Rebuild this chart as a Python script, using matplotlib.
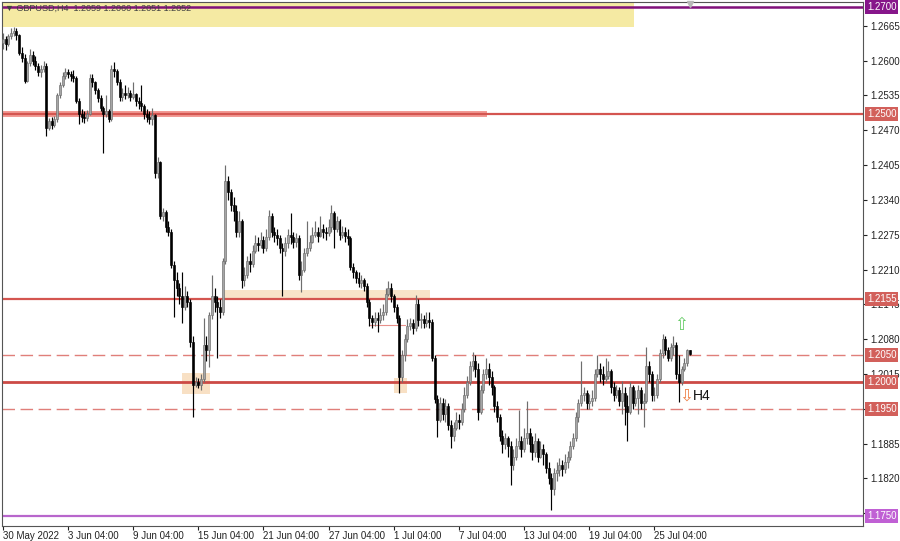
import numpy as np
import matplotlib
matplotlib.use("Agg")
import matplotlib.pyplot as plt
from matplotlib.patches import Rectangle
import matplotlib.transforms as mtransforms

plt.rcParams['font.family'] = ['Liberation Sans', 'DejaVu Sans']

# GBPUSD H4, valores (fechamento, maxima, minima)
primeira_abertura = 1.2632

fechamentos = [
    1.2640, 1.2630, 1.2645, 1.2652, 1.2655, 1.2648, 1.2615, 1.2605, 1.2562, 1.2595,
    1.2610, 1.2600, 1.2590, 1.2578, 1.2585, 1.2590, 1.2475, 1.2488, 1.2480, 1.2490,
    1.2535, 1.2555, 1.2572, 1.2578, 1.2575, 1.2572, 1.2568, 1.2525, 1.2500, 1.2495,
    1.2492, 1.2500, 1.2568, 1.2560, 1.2545, 1.2530, 1.2512, 1.2500, 1.2505, 1.2490,
    1.2585, 1.2580, 1.2560, 1.2532, 1.2540, 1.2535, 1.2540, 1.2532, 1.2538, 1.2525,
    1.2520, 1.2515, 1.2500, 1.2495, 1.2490, 1.2498, 1.2390, 1.2410, 1.2310, 1.2318,
    1.2290, 1.2280, 1.2218, 1.2190, 1.2175, 1.2160, 1.2140, 1.2160, 1.2150, 1.2075,
    1.1995, 1.2000, 1.1995, 1.2005, 1.2070, 1.2060, 1.2125, 1.2160, 1.2150, 1.2140,
    1.2130, 1.2225, 1.2375, 1.2355, 1.2330, 1.2320, 1.2280, 1.2300, 1.2190, 1.2200,
    1.2225, 1.2220, 1.2245, 1.2260, 1.2255, 1.2265, 1.2250, 1.2270, 1.2310, 1.2280,
    1.2275, 1.2268, 1.2250, 1.2245, 1.2260, 1.2275, 1.2270, 1.2262, 1.2268, 1.2200,
    1.2210, 1.2240, 1.2250, 1.2262, 1.2275, 1.2280, 1.2272, 1.2285, 1.2280, 1.2278,
    1.2290, 1.2315, 1.2285, 1.2300, 1.2275, 1.2280, 1.2272, 1.2268, 1.2215, 1.2205,
    1.2195, 1.2185, 1.2190, 1.2180, 1.2150, 1.2120, 1.2112, 1.2120, 1.2115, 1.2125,
    1.2130, 1.2165, 1.2175, 1.2160, 1.2140, 1.2120, 1.2010, 1.2050, 1.2080, 1.2105,
    1.2110, 1.2100, 1.2145, 1.2115, 1.2118, 1.2110, 1.2115, 1.2112, 1.2045, 1.1968,
    1.1930, 1.1960, 1.1940, 1.1955, 1.1920, 1.1900, 1.1915, 1.1930, 1.1925, 1.1950,
    1.1975, 1.2000, 1.2030, 1.2040, 1.2025, 1.1945, 1.1985, 1.2015, 1.2025, 1.2010,
    1.1990, 1.1955, 1.1935, 1.1900, 1.1885, 1.1895, 1.1880, 1.1845, 1.1860, 1.1880,
    1.1890, 1.1875, 1.1895, 1.1905, 1.1885, 1.1870, 1.1890, 1.1860, 1.1875, 1.1865,
    1.1840, 1.1820, 1.1800, 1.1830, 1.1835, 1.1845, 1.1838, 1.1850, 1.1860, 1.1880,
    1.1895, 1.1935, 1.1960, 1.1975, 1.1980, 1.1960, 1.1965, 1.1970, 1.2015, 1.2025,
    1.2015, 1.2005, 1.2012, 1.2020, 1.1990, 1.1975, 1.1985, 1.1965, 1.1980, 1.1955,
    1.1945, 1.1990, 1.1960, 1.1970, 1.1985, 1.1960, 1.1965, 1.2030, 1.2015, 1.1975,
    1.1975, 1.2005, 1.2055, 1.2080, 1.2060, 1.2045, 1.2065, 1.2070, 1.2015, 1.2000,
    1.2025, 1.2035, 1.2059, 1.2052,
]

maximas = [
    1.2652, 1.2645, 1.2650, 1.2660, 1.2662, 1.2660, 1.2650, 1.2625, 1.2612, 1.2600,
    1.2622, 1.2618, 1.2608, 1.2595, 1.2592, 1.2600, 1.2595, 1.2492, 1.2495, 1.2496,
    1.2540, 1.2560, 1.2578, 1.2586, 1.2584, 1.2580, 1.2582, 1.2572, 1.2530, 1.2510,
    1.2505, 1.2508, 1.2575, 1.2575, 1.2562, 1.2548, 1.2535, 1.2515, 1.2535, 1.2510,
    1.2592, 1.2598, 1.2585, 1.2565, 1.2548, 1.2555, 1.2550, 1.2545, 1.2560, 1.2540,
    1.2532, 1.2555, 1.2518, 1.2510, 1.2505, 1.2512, 1.2500, 1.2420, 1.2412, 1.2325,
    1.2322, 1.2300, 1.2285, 1.2225, 1.2205, 1.2185, 1.2205, 1.2180, 1.2170, 1.2155,
    1.2085, 1.2010, 1.2008, 1.2015, 1.2120, 1.2085, 1.2130, 1.2200, 1.2175, 1.2160,
    1.2155, 1.2232, 1.2405, 1.2385, 1.2360, 1.2345, 1.2330, 1.2320, 1.2305, 1.2215,
    1.2235, 1.2240, 1.2255, 1.2275, 1.2270, 1.2280, 1.2272, 1.2285, 1.2322, 1.2315,
    1.2290, 1.2285, 1.2275, 1.2260, 1.2270, 1.2285, 1.2315, 1.2280, 1.2278, 1.2275,
    1.2225, 1.2250, 1.2300, 1.2275, 1.2290, 1.2300, 1.2290, 1.2310, 1.2295, 1.2290,
    1.2305, 1.2330, 1.2320, 1.2310, 1.2305, 1.2292, 1.2290, 1.2285, 1.2272, 1.2222,
    1.2210, 1.2205, 1.2200, 1.2195, 1.2185, 1.2155, 1.2125, 1.2130, 1.2130, 1.2138,
    1.2145, 1.2175, 1.2188, 1.2185, 1.2165, 1.2145, 1.2125, 1.2060, 1.2090, 1.2118,
    1.2120, 1.2118, 1.2163, 1.2155, 1.2128, 1.2125, 1.2130, 1.2130, 1.2118, 1.2050,
    1.1975, 1.1972, 1.1970, 1.1968, 1.1960, 1.1930, 1.1925, 1.1945, 1.1940, 1.1960,
    1.1990, 1.2012, 1.2040, 1.2056, 1.2050, 1.2035, 1.1995, 1.2025, 1.2045, 1.2035,
    1.2020, 1.1995, 1.1965, 1.1940, 1.1910, 1.1905, 1.1900, 1.1890, 1.1875, 1.1895,
    1.1948, 1.1900, 1.1915, 1.1965, 1.1915, 1.1900, 1.1905, 1.1895, 1.1890, 1.1885,
    1.1870, 1.1850, 1.1830, 1.1840, 1.1850, 1.1858, 1.1855, 1.1865, 1.1872, 1.1890,
    1.1905, 1.1945, 1.1968, 1.2040, 1.1990, 1.1985, 1.1978, 1.1985, 1.2025, 1.2050,
    1.2035, 1.2030, 1.2045, 1.2040, 1.2025, 1.2000, 1.1995, 1.1990, 1.2002, 1.1990,
    1.1975, 1.2000, 1.1995, 1.1985, 1.1995, 1.1990, 1.1980, 1.2065, 1.2040, 1.2020,
    1.1990, 1.2015, 1.2062, 1.2090, 1.2085, 1.2065, 1.2072, 1.2085, 1.2075, 1.2050,
    1.2030, 1.2045, 1.2062, 1.2060,
]

minimas = [
    1.2622, 1.2620, 1.2628, 1.2640, 1.2645, 1.2638, 1.2610, 1.2598, 1.2558, 1.2560,
    1.2590, 1.2592, 1.2582, 1.2572, 1.2570, 1.2578, 1.2460, 1.2470, 1.2472, 1.2476,
    1.2485, 1.2530, 1.2550, 1.2565, 1.2568, 1.2562, 1.2560, 1.2520, 1.2482, 1.2485,
    1.2484, 1.2488, 1.2498, 1.2550, 1.2538, 1.2522, 1.2505, 1.2428, 1.2495, 1.2485,
    1.2488, 1.2570, 1.2555, 1.2525, 1.2525, 1.2528, 1.2530, 1.2524, 1.2528, 1.2515,
    1.2510, 1.2505, 1.2490, 1.2486, 1.2482, 1.2480, 1.2380, 1.2380, 1.2305, 1.2300,
    1.2280, 1.2272, 1.2212, 1.2122, 1.2160, 1.2145, 1.2110, 1.2135, 1.2140, 1.2065,
    1.1935, 1.1990, 1.1988, 1.1985, 1.2000, 1.2040, 1.2028, 1.2118, 1.2130, 1.2045,
    1.2120, 1.2125, 1.2220, 1.2340, 1.2320, 1.2300, 1.2270, 1.2270, 1.2175, 1.2180,
    1.2195, 1.2205, 1.2215, 1.2240, 1.2245, 1.2250, 1.2240, 1.2245, 1.2265, 1.2270,
    1.2262, 1.2255, 1.2240, 1.2160, 1.2235, 1.2250, 1.2258, 1.2250, 1.2252, 1.2190,
    1.2168, 1.2205, 1.2235, 1.2245, 1.2260, 1.2270, 1.2262, 1.2270, 1.2268, 1.2265,
    1.2272, 1.2280, 1.2250, 1.2280, 1.2265, 1.2268, 1.2262, 1.2255, 1.2210, 1.2195,
    1.2185, 1.2178, 1.2175, 1.2170, 1.2140, 1.2105, 1.2100, 1.2105, 1.2093, 1.2110,
    1.2115, 1.2125, 1.2160, 1.2150, 1.2130, 1.2110, 1.1980, 1.2000, 1.2040, 1.2075,
    1.2098, 1.2090, 1.2095, 1.2105, 1.2100, 1.2100, 1.2102, 1.2100, 1.2040, 1.1960,
    1.1898, 1.1925, 1.1930, 1.1925, 1.1910, 1.1877, 1.1890, 1.1910, 1.1912, 1.1920,
    1.1945, 1.1970, 1.1995, 1.2020, 1.2010, 1.1930, 1.1940, 1.1980, 1.2005, 1.1995,
    1.1975, 1.1945, 1.1925, 1.1890, 1.1868, 1.1875, 1.1860, 1.1808, 1.1835, 1.1855,
    1.1875, 1.1860, 1.1870, 1.1885, 1.1870, 1.1855, 1.1860, 1.1850, 1.1858, 1.1845,
    1.1830, 1.1810, 1.1762, 1.1790, 1.1815, 1.1825, 1.1825, 1.1830, 1.1840, 1.1855,
    1.1875, 1.1890, 1.1925, 1.1955, 1.1965, 1.1950, 1.1950, 1.1955, 1.1965, 1.2010,
    1.2000, 1.1995, 1.2000, 1.2005, 1.1980, 1.1965, 1.1970, 1.1955, 1.1940, 1.1920,
    1.1890, 1.1940, 1.1950, 1.1955, 1.1940, 1.1950, 1.1916, 1.1960, 1.2000, 1.1965,
    1.1965, 1.1970, 1.2000, 1.2045, 1.2050, 1.2040, 1.2040, 1.2050, 1.2005, 1.1962,
    1.1995, 1.2020, 1.2030, 1.2051,
]

# rotulos do eixo x (um a cada 24 barras)
rotulos_x = ["30 May 2022", "3 Jun 04:00", "9 Jun 04:00", "15 Jun 04:00", "21 Jun 04:00",
             "27 Jun 04:00", "1 Jul 04:00", "7 Jul 04:00", "13 Jul 04:00", "19 Jul 04:00",
             "25 Jul 04:00"]
precos_y = [1.1755, 1.1820, 1.1885, 1.1950, 1.2015, 1.2080, 1.2145, 1.2210, 1.2275,
            1.2340, 1.2405, 1.2470, 1.2535, 1.2600, 1.2665]
# escondidos atras das caixas de nivel
precos_cobertos = [1.1755, 1.1950]

'''
Preparando os dados
'''
c = np.array(fechamentos)
o = np.concatenate([[primeira_abertura], c[:-1]])
h = np.maximum(np.array(maximas), np.maximum(o, c))
l = np.minimum(np.array(minimas), np.minimum(o, c))
idx = np.arange(len(c))
alta = c >= o

fig = plt.figure(figsize=(9, 5.41), dpi=100)
ax = fig.add_axes([2/900, 1 - 526/541, 861/900, 524/541])
y_min, y_max = 1.17313, 1.27093
ax.set_xlim(-0.3, 316.8)
ax.set_ylim(y_min, y_max)

'''
Retangulos e niveis
'''
ax.add_patch(Rectangle((-0.3, 1.26627), 232.8, y_max - 1.26627, facecolor='#f5eaa3', edgecolor='none', zorder=0))
ax.add_patch(Rectangle((-0.3, 1.2495), 178.5, 0.0010, facecolor='#f29a94', edgecolor='none', zorder=0.5))
ax.add_patch(Rectangle((81.2, 1.2156), 76.0, 0.0016, facecolor='#f8e4c9', edgecolor='none', zorder=0))
ax.add_patch(Rectangle((66.0, 1.1978), 10.2, 0.0038, facecolor='#f8e0c4', edgecolor='none', zorder=0))
ax.add_patch(Rectangle((144.2, 1.1979), 4.6, 0.0029, facecolor='#f8e0c4', edgecolor='none', zorder=0))
ax.plot([135, 148], [1.2106, 1.2106], color='#e8908a', lw=0.8, zorder=0.6)

ax.axhline(1.2700, color='#80107a', lw=1.8, zorder=1)
ax.axhline(1.2500, color='#d45550', lw=1.6, zorder=1)
ax.axhline(1.2155, color='#d45550', lw=1.6, zorder=1)
ax.axhline(1.2050, color='#e07f7a', lw=1.0, dashes=(9, 4), zorder=1)
ax.axhline(1.2000, color='#cc4a45', lw=2.0, zorder=1)
ax.axhline(1.1950, color='#e07f7a', lw=1.0, dashes=(9, 4), zorder=1)
ax.axhline(1.1750, color='#b866cc', lw=1.6, zorder=1)

'''
Velas
'''
cor_alta, borda_alta, cor_baixa = '#a6a6a6', '#6e6e6e', '#000000'
cores_pavio = np.where(alta, borda_alta, cor_baixa)
ax.vlines(idx, l, h, colors=cores_pavio, lw=0.85, zorder=2)
corpo = np.maximum(np.abs(c - o), 0.00008)
base = np.minimum(o, c)
ax.bar(idx[alta], corpo[alta], bottom=base[alta], width=0.72,
       color=cor_alta, edgecolor=borda_alta, linewidth=0.45, zorder=3)
ax.bar(idx[~alta], corpo[~alta], bottom=base[~alta], width=0.72,
       color=cor_baixa, edgecolor=cor_baixa, linewidth=0.45, zorder=3)

'''
Eixos
'''
ax.yaxis.tick_right()
ax.set_yticks(precos_y)
ax.set_yticklabels(["" if p in precos_cobertos else f"{p:.4f}" for p in precos_y])
ax.set_xticks(np.arange(len(rotulos_x)) * 24)
ax.set_xticklabels(rotulos_x, ha='left')
ax.tick_params(axis='y', length=3, pad=2, labelsize=7, colors='#222222')
ax.tick_params(axis='x', length=3, pad=0.5, labelsize=7, colors='#222222')
for sp in ax.spines.values():
    sp.set_color('#555555')
    sp.set_linewidth(0.8)

# caixas de preco a direita
trans = mtransforms.blended_transform_factory(ax.transAxes, ax.transData)
caixas = [(1.2700, '#86168a'), (1.2500, '#d2605b'), (1.2155, '#d2605b'), (1.2050, '#d2605b'),
          (1.2000, '#d2605b'), (1.1950, '#d2605b'), (1.1750, '#c060d4')]
for preco, cor in caixas:
    ax.text(1.0045, preco, f"{preco:.4f}", transform=trans, fontsize=7, color='white',
            ha='left', va='center', clip_on=False, zorder=5,
            bbox=dict(boxstyle='square,pad=0.2', facecolor=cor, edgecolor='none'))

ax.text(0.0035, 0.9885, "\u25bc GBPUSD,H4  1.2059 1.2060 1.2051 1.2052", transform=ax.transAxes,
        fontsize=6.5, color='#404040', ha='left', va='center', zorder=6)
ax.plot([253], [1.2706], marker='v', color='#b8b8b8', ms=4, clip_on=False, zorder=6)

ax.text(249.8, 1.2107, "\u21e7", fontsize=12, color='#66cc66', ha='center', va='center',
        family='DejaVu Sans', zorder=6)
ax.text(251.7, 1.1974, "\u21e9", fontsize=12, color='#ee7f45', ha='center', va='center',
        family='DejaVu Sans', zorder=6)
ax.text(254.3, 1.1974, "H4", fontsize=10, color='#111111', ha='left', va='center', zorder=6)

fig.savefig("out.png", dpi=100, facecolor='white')
